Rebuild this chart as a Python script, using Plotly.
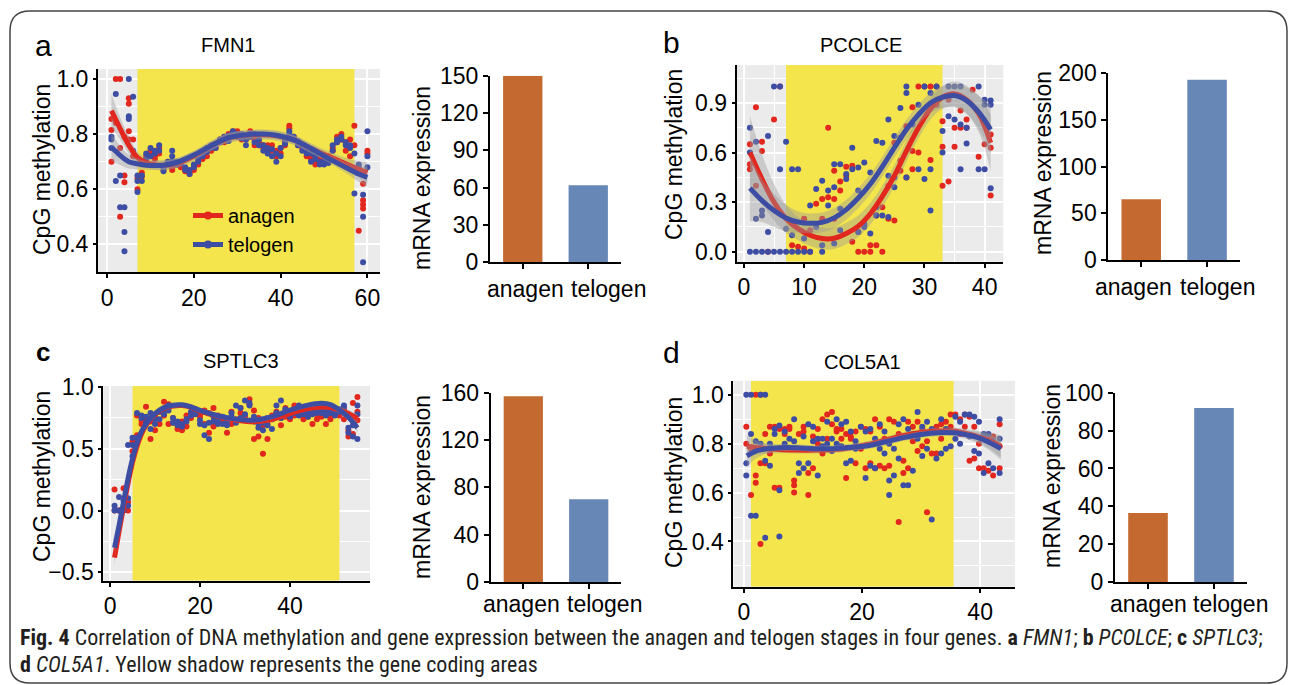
import plotly.graph_objects as go

W, H = 1290, 685

RED = "#E2271F"
BLUE = "#3D4DA3"
BAR_ANAGEN = "#C46A30"
BAR_TELOGEN = "#6787B7"
YELLOW = "#F3E54B"
FONT = "Liberation Sans, Arial, sans-serif"

# ---------------- data ----------------
STAGES = ["anagen", "telogen"]

# FMN1: CpG methylation per CpG site (site 1..60), several samples per site
FMN1_ANAGEN = [
    [0.70, 0.815, 0.855], [1.0, 0.84], [1.0, 0.75, 0.50], [0.65, 0.625, 0.79], [0.93, 0.91, 0.81, 0.78],
    [0.78, 0.72], [0.64, 0.60], [0.66, 0.645], [0.72, 0.70], [0.73, 0.74],
    [0.71, 0.72], [0.73, 0.75], [0.67, 0.68], [0.69, 0.70], [0.68, 0.67],
    [0.70, 0.69], [0.69, 0.68], [0.665, 0.67], [0.66, 0.655], [0.67, 0.68],
    [0.70, 0.69], [0.71, 0.72], [0.72, 0.74], [0.75, 0.74], [0.76, 0.75],
    [0.78, 0.77], [0.79, 0.77], [0.80, 0.79], [0.81, 0.79], [0.81, 0.79],
    [0.80, 0.78], [0.79, 0.78], [0.81, 0.79], [0.76, 0.78], [0.77, 0.76],
    [0.75, 0.76], [0.76, 0.74], [0.76, 0.74], [0.74, 0.72], [0.75, 0.73],
    [0.76, 0.77], [0.83, 0.82], [0.79, 0.78], [0.77, 0.76], [0.76, 0.75],
    [0.74, 0.72], [0.72, 0.71], [0.69, 0.70], [0.70, 0.71], [0.71, 0.70],
    [0.70, 0.72], [0.75, 0.74], [0.77, 0.79], [0.80, 0.78], [0.77, 0.74],
    [0.72, 0.78], [0.83, 0.76], [0.45, 0.67], [0.62, 0.56, 0.545, 0.53], [0.74, 0.73],
]
FMN1_TELOGEN = [
    [0.79, 0.78, 0.75], [0.945, 0.63], [0.65, 0.535], [0.535, 0.445, 0.375], [1.0, 0.865, 0.855],
    [0.935, 0.74], [0.65, 0.63, 0.59], [0.63, 0.65], [0.73, 0.71], [0.75, 0.72],
    [0.74, 0.73], [0.76, 0.74], [0.665, 0.68], [0.70, 0.69], [0.74, 0.72, 0.70],
    [0.70, 0.69], [0.695, 0.70], [0.68, 0.67], [0.655, 0.67], [0.69, 0.68],
    [0.71, 0.70], [0.72, 0.73], [0.735, 0.75], [0.76, 0.75], [0.765, 0.75],
    [0.77, 0.78], [0.785, 0.79], [0.795, 0.775], [0.80, 0.81], [0.80, 0.79],
    [0.785, 0.80], [0.76, 0.78], [0.79, 0.80], [0.80, 0.77], [0.76, 0.78],
    [0.74, 0.76], [0.73, 0.75], [0.72, 0.745], [0.70, 0.73], [0.72, 0.75],
    [0.765, 0.78], [0.80, 0.81], [0.78, 0.79], [0.775, 0.76], [0.76, 0.74],
    [0.745, 0.73], [0.70, 0.73], [0.71, 0.72], [0.70, 0.69], [0.69, 0.70],
    [0.70, 0.695], [0.76, 0.74], [0.78, 0.77], [0.79, 0.78], [0.77, 0.76],
    [0.75, 0.76], [0.585, 0.73], [0.69, 0.68], [0.58, 0.50, 0.335], [0.81, 0.72, 0.68],
]
FMN1_FIT_X = [1, 3, 5, 7, 9, 11, 13, 16, 20, 24, 28, 32, 36, 39, 43, 47, 51, 55, 58, 60]
FMN1_ANAGEN_FIT = [0.885, 0.82, 0.76, 0.715, 0.697, 0.689, 0.687, 0.694, 0.72, 0.758,
                   0.786, 0.796, 0.798, 0.794, 0.779, 0.748, 0.72, 0.692, 0.672, 0.66]
FMN1_ANAGEN_SE = [0.06, 0.04, 0.03, 0.022, 0.018, 0.018, 0.018, 0.018, 0.018, 0.018,
                  0.018, 0.018, 0.018, 0.018, 0.018, 0.018, 0.018, 0.022, 0.03, 0.04]
FMN1_TELOGEN_FIT = [0.752, 0.723, 0.70, 0.692, 0.687, 0.686, 0.687, 0.697, 0.724, 0.758,
                    0.787, 0.798, 0.80, 0.796, 0.779, 0.748, 0.712, 0.679, 0.655, 0.643]
FMN1_TELOGEN_SE = [0.05, 0.035, 0.025, 0.02, 0.016, 0.016, 0.016, 0.016, 0.016, 0.016,
                   0.016, 0.016, 0.016, 0.016, 0.016, 0.016, 0.016, 0.02, 0.028, 0.036]
FMN1_CODING = [7, 57]
FMN1_MRNA = [150, 62]

# PCOLCE: sites 1..41
PCOLCE_ANAGEN = [
    [0.65, 0.53, 0.50], [0.875, 0.40], [0.665, 0.61], [0.0], [0.80],
    [1.0], [], [0.04], [0.03], [0.20, 0.02],
    [0.0, 0.13], [0.29], [0.32, 0.20], [0.75, 0.33], [0.49, 0.32, 0.20],
    [0.425, 0.37], [0.515, 0.46], [0.52, 0.06], [0.0, 0.12], [0.0, 0.16],
    [0.04, 0.0], [0.04, 0.22], [0.0, 0.27], [0.40, 0.20], [0.66, 0.19],
    [0.49, 0.55], [0.76, 0.45], [0.875, 0.61, 0.50], [1.0, 0.60], [1.0],
    [1.0, 0.555], [1.0, 0.89], [0.79, 0.635, 0.40], [0.425, 0.92], [0.75, 0.635],
    [0.855, 0.75], [0.80, 0.75], [0.98], [0.575], [0.65],
    [0.71, 0.63, 0.34],
]
PCOLCE_TELOGEN = [
    [0.75, 0.60, 0.0], [0.665, 0.20, 0.0], [0.25, 0.22, 0.0], [0.70, 0.12, 0.0], [1.0, 0.0],
    [1.0, 0.50, 0.0], [0.665, 0.14, 0.0], [0.50, 0.10, 0.0], [0.50, 0.0], [0.08, 0.0],
    [0.28, 0.0], [0.38, 0.15], [0.43, 0.04, 0.0], [0.37, 0.28], [0.53, 0.39, 0.05],
    [0.53, 0.26, 0.13], [0.47, 0.44], [0.63, 0.50], [0.51, 0.37, 0.12], [0.54, 0.17, 0.15],
    [0.48, 0.11], [0.67, 0.27, 0.22], [0.66, 0.22], [0.80, 0.46, 0.21], [0.70, 0.45, 0.39],
    [0.87, 0.69], [1.0, 0.96, 0.45], [0.77], [0.89, 0.50], [1.0, 0.44],
    [0.96, 0.25, 0.50], [1.0], [0.73, 0.60], [1.0, 0.82], [1.0, 0.80],
    [1.0, 0.77, 0.50], [0.75, 0.655], [], [1.0, 0.50], [0.92, 0.89, 0.50],
    [0.915, 0.89, 0.385],
]
PCOLCE_FIT_X = [1, 3, 5, 7, 9, 11, 13, 15, 17, 19, 21, 23, 25, 27, 29, 31, 33, 35, 37, 39, 41]
PCOLCE_ANAGEN_FIT = [0.60, 0.44, 0.30, 0.20, 0.14, 0.10, 0.08, 0.082, 0.11, 0.155, 0.23,
                     0.335, 0.46, 0.61, 0.75, 0.865, 0.935, 0.955, 0.92, 0.835, 0.66]
PCOLCE_ANAGEN_SE = [0.22, 0.15, 0.11, 0.085, 0.07, 0.065, 0.065, 0.065, 0.065, 0.065, 0.065,
                    0.065, 0.065, 0.065, 0.065, 0.065, 0.07, 0.075, 0.085, 0.11, 0.17]
PCOLCE_TELOGEN_FIT = [0.385, 0.31, 0.25, 0.205, 0.18, 0.172, 0.178, 0.205, 0.255, 0.325, 0.41,
                      0.515, 0.63, 0.74, 0.83, 0.90, 0.935, 0.945, 0.915, 0.845, 0.74]
PCOLCE_TELOGEN_SE = [0.20, 0.13, 0.10, 0.08, 0.065, 0.06, 0.06, 0.06, 0.06, 0.06, 0.06,
                     0.06, 0.06, 0.06, 0.06, 0.06, 0.065, 0.07, 0.08, 0.10, 0.15]
PCOLCE_CODING = [7, 33]
PCOLCE_MRNA = [65, 193]

# SPTLC3: sites 1..55
SPTLC3_ANAGEN = [
    [0.17, 0.0], [0.0, 0.0], [0.18, 0.0], [0.07, 0.0], [0.56, 0.48],
    [0.77, 0.61], [0.73, 0.70], [0.84, 0.73], [0.58, 0.72], [0.65, 0.76],
    [0.80, 0.70], [0.88, 0.77], [0.86, 0.70], [0.75, 0.71], [0.70, 0.66],
    [0.65, 0.72], [0.77, 0.68], [0.79, 0.75], [0.82, 0.80], [0.78, 0.76],
    [0.81, 0.70], [0.63, 0.79], [0.83, 0.68], [0.77, 0.75], [0.74, 0.72],
    [0.63, 0.71], [0.80, 0.70], [0.74, 0.73], [0.83, 0.79], [0.74, 0.76],
    [0.90, 0.86], [0.58, 0.81], [0.60, 0.75], [0.46, 0.69], [0.58, 0.70],
    [0.77, 0.74], [0.80, 0.78], [0.69, 0.75], [0.83, 0.76], [0.74, 0.79],
    [0.85, 0.77], [0.78, 0.83], [0.78, 0.74], [0.76, 0.79], [0.70, 0.80],
    [0.78, 0.74], [0.76, 0.80], [0.82, 0.70], [0.74, 0.78], [0.78, 0.81],
    [0.79, 0.77], [0.74, 0.82], [0.60, 0.65], [0.87, 0.62], [0.92, 0.80, 0.73],
]
SPTLC3_TELOGEN = [
    [0.04, 0.0], [0.11, 0.0], [0.08, 0.0], [0.10, 0.53, 0.04], [0.59, 0.53, 0.44],
    [0.79, 0.59], [0.77, 0.75], [0.76, 0.71], [0.79, 0.66], [0.74, 0.70],
    [0.80, 0.74], [0.82, 0.78], [0.85, 0.81], [0.75, 0.71], [0.72, 0.69],
    [0.70, 0.68], [0.74, 0.72], [0.80, 0.77], [0.80, 0.78], [0.70, 0.73],
    [0.61, 0.69], [0.58, 0.71], [0.76, 0.72], [0.73, 0.70], [0.70, 0.76],
    [0.72, 0.69], [0.76, 0.79], [0.85, 0.71], [0.83, 0.75], [0.89, 0.78],
    [0.87, 0.85], [0.76, 0.72], [0.67, 0.70], [0.65, 0.71], [0.69, 0.75],
    [0.66, 0.74], [0.79, 0.85], [0.89, 0.75], [0.82, 0.78], [0.77, 0.76],
    [0.81, 0.79], [0.85, 0.77], [0.81, 0.78], [0.79, 0.76], [0.78, 0.82],
    [0.81, 0.79], [0.79, 0.82], [0.80, 0.77], [0.79, 0.81], [0.78, 0.77],
    [0.82, 0.80], [0.84, 0.85], [0.63, 0.67], [0.60, 0.69], [0.58, 0.78, 0.85],
]
SPTLC3_FIT_X = [1, 2, 3, 4, 5, 6, 7, 8, 10, 12, 14, 16, 18, 20, 24, 28, 32, 36, 40, 44, 47, 49, 51, 53, 55]
SPTLC3_ANAGEN_FIT = [-0.38, -0.17, 0.03, 0.22, 0.39, 0.52, 0.62, 0.69, 0.78, 0.826, 0.846, 0.85, 0.836,
                     0.805, 0.762, 0.733, 0.718, 0.738, 0.785, 0.825, 0.838, 0.833, 0.815, 0.785, 0.745]
SPTLC3_ANAGEN_SE = [0.06, 0.035, 0.03, 0.025, 0.02, 0.02, 0.02, 0.02, 0.02, 0.02, 0.02, 0.02, 0.02,
                    0.02, 0.02, 0.02, 0.02, 0.02, 0.02, 0.02, 0.02, 0.02, 0.025, 0.03, 0.035]
SPTLC3_TELOGEN_FIT = [-0.30, -0.12, 0.07, 0.26, 0.42, 0.55, 0.64, 0.70, 0.785, 0.833, 0.853, 0.856, 0.84,
                      0.81, 0.767, 0.74, 0.732, 0.76, 0.812, 0.853, 0.868, 0.857, 0.815, 0.755, 0.67]
SPTLC3_TELOGEN_SE = [0.06, 0.035, 0.03, 0.025, 0.02, 0.02, 0.02, 0.02, 0.02, 0.02, 0.02, 0.02, 0.02,
                     0.02, 0.02, 0.02, 0.02, 0.02, 0.02, 0.02, 0.02, 0.02, 0.025, 0.03, 0.035]
SPTLC3_CODING = [5, 51]
SPTLC3_MRNA = [157, 70]

# COL5A1: site positions are not integers
COL5A1_POS = [0.4, 1.2, 2.0, 2.8, 3.6, 4.4, 5.2, 6.0, 6.9, 7.7, 8.5, 9.3, 10.1, 10.9, 11.7,
              12.5, 13.3, 14.1, 14.9, 15.7, 16.5, 17.3, 18.1, 18.9, 19.8, 20.6, 21.4, 22.2,
              23.0, 23.8, 24.6, 25.4, 26.2, 27.0, 27.8, 28.6, 29.4, 30.2, 31.0, 31.8, 32.6,
              33.4, 34.2, 35.0, 35.8, 36.6, 37.4, 38.2, 39.0, 39.8, 40.6, 41.4, 42.2, 43.3]
COL5A1_ANAGEN = [
    [0.87, 0.80], [0.59, 0.78], [1.0, 0.67, 0.64], [1.0, 0.39, 0.72], [0.84, 0.72],
    [0.87, 0.76], [0.62, 0.87], [0.62, 0.86], [0.86, 0.84], [0.87, 0.86],
    [0.60, 0.63, 0.65], [0.78, 0.84], [0.87, 0.85], [0.59, 0.68], [0.70, 0.83],
    [0.86, 0.80], [0.90, 0.76], [0.92, 0.82], [0.93, 0.88], [0.86, 0.85],
    [0.86, 0.82], [0.66, 0.84], [0.83, 0.82], [0.72, 0.85], [0.87, 0.78],
    [0.86, 0.70], [0.85, 0.72], [0.90, 0.70], [0.87, 0.71], [0.82, 0.70],
    [0.90, 0.71], [0.89, 0.82], [0.48, 0.84], [0.73, 0.68], [0.89, 0.70],
    [0.87, 0.81], [0.89, 0.77], [0.86, 0.79], [0.52, 0.81], [0.76, 0.85],
    [0.87, 0.76], [0.82, 0.88], [0.85, 0.89], [0.92, 0.87], [0.92, 0.85],
    [0.90, 0.84], [0.92, 0.87], [0.91, 0.73], [0.87, 0.74], [0.80, 0.70],
    [0.70, 0.82], [0.69, 0.83], [0.67, 0.83], [0.88, 0.79, 0.70],
]
COL5A1_TELOGEN = [
    [1.0, 0.72, 0.67], [1.0, 0.505, 0.84], [0.505, 0.81], [1.0, 0.80], [1.0, 0.415, 0.73],
    [0.71, 0.80], [0.86, 0.84], [0.61, 0.42, 0.875], [0.80, 0.85], [0.82, 0.78],
    [0.90, 0.81], [0.68, 0.72], [0.70, 0.83], [0.88, 0.72], [0.87, 0.81],
    [0.67, 0.82], [0.82, 0.79], [0.89, 0.80], [0.82, 0.77], [0.90, 0.80],
    [0.88, 0.79], [0.89, 0.72], [0.73, 0.85], [0.81, 0.78], [0.87, 0.79],
    [0.85, 0.66], [0.71, 0.86], [0.70, 0.82], [0.88, 0.78], [0.85, 0.76],
    [0.65, 0.59, 0.80], [0.67, 0.78], [0.74, 0.88], [0.90, 0.63], [0.63, 0.86],
    [0.69, 0.84], [0.93, 0.82], [0.75, 0.87], [0.89, 0.78], [0.49, 0.86],
    [0.74, 0.85], [0.76, 0.90], [0.78, 0.86], [0.79, 0.85], [0.91, 0.82],
    [0.89, 0.80], [0.92, 0.84], [0.92, 0.83], [0.91, 0.77], [0.89, 0.76],
    [0.68, 0.84], [0.72, 0.84], [0.70, 0.81], [0.90, 0.68, 0.82],
]
COL5A1_FIT_X = [0.5, 2, 4, 6, 9, 12, 15, 18, 21, 24, 27, 30, 33, 36, 38, 40, 42, 43.5]
COL5A1_ANAGEN_FIT = [0.79, 0.785, 0.78, 0.776, 0.774, 0.774, 0.776, 0.784, 0.797, 0.815, 0.833,
                     0.846, 0.852, 0.85, 0.84, 0.826, 0.808, 0.79]
COL5A1_ANAGEN_SE = [0.045, 0.03, 0.02, 0.015, 0.014, 0.014, 0.014, 0.014, 0.014, 0.014, 0.014,
                    0.014, 0.014, 0.015, 0.018, 0.025, 0.035, 0.045]
COL5A1_TELOGEN_FIT = [0.75, 0.77, 0.78, 0.784, 0.784, 0.78, 0.78, 0.785, 0.792, 0.808, 0.825,
                      0.838, 0.845, 0.844, 0.835, 0.822, 0.80, 0.78]
COL5A1_TELOGEN_SE = [0.045, 0.03, 0.02, 0.015, 0.014, 0.014, 0.014, 0.014, 0.014, 0.014, 0.014,
                     0.014, 0.014, 0.015, 0.018, 0.025, 0.035, 0.045]
COL5A1_CODING = [1.2, 35.5]
COL5A1_MRNA = [36.5, 92]


def xdom(p0, p1):
    return [p0 / W, p1 / W]


def ydom(p0, p1):
    return [1 - p1 / H, 1 - p0 / H]


def ref(kind, i):
    return kind if i == 1 else f"{kind}{i}"


def key(kind, i):
    return f"{kind}axis" if i == 1 else f"{kind}axis{i}"


def flatten(pos, groups):
    xs, ys = [], []
    for p, vals in zip(pos, groups):
        for v in vals:
            xs.append(p)
            ys.append(v)
    return xs, ys


fig = go.Figure()
layout = {}
shapes = []
annotations = []

tickfont = dict(family=FONT, size=23, color="black")

# methylation panels: (axis index, pixel box, x range, y range, ticks)
meth_panels = [
    (1, (98, 380), (69, 272), (-2.1, 62.9), (0.30, 1.036), 20, 10, 0.2, 0.1,
     list(range(1, 61)), FMN1_ANAGEN, FMN1_TELOGEN, FMN1_FIT_X,
     FMN1_ANAGEN_FIT, FMN1_ANAGEN_SE, FMN1_TELOGEN_FIT, FMN1_TELOGEN_SE, FMN1_CODING),
    (2, (736.7, 1003.3), (65, 261.7), (-1.2, 43.1), (-0.06, 1.13), 10, 5, 0.3, 0.15,
     list(range(1, 42)), PCOLCE_ANAGEN, PCOLCE_TELOGEN, PCOLCE_FIT_X,
     PCOLCE_ANAGEN_FIT, PCOLCE_ANAGEN_SE, PCOLCE_TELOGEN_FIT, PCOLCE_TELOGEN_SE, PCOLCE_CODING),
    (3, (103.3, 370), (386, 580.7), (-1.5, 57.8), (-0.567, 1.008), 20, 10, 0.5, 0.25,
     list(range(1, 56)), SPTLC3_ANAGEN, SPTLC3_TELOGEN, SPTLC3_FIT_X,
     SPTLC3_ANAGEN_FIT, SPTLC3_ANAGEN_SE, SPTLC3_TELOGEN_FIT, SPTLC3_TELOGEN_SE, SPTLC3_CODING),
    (4, (733.3, 1015), (380.7, 586.7), (-1.8, 45.9), (0.215, 1.058), 20, 10, 0.2, 0.1,
     COL5A1_POS, COL5A1_ANAGEN, COL5A1_TELOGEN, COL5A1_FIT_X,
     COL5A1_ANAGEN_FIT, COL5A1_ANAGEN_SE, COL5A1_TELOGEN_FIT, COL5A1_TELOGEN_SE, COL5A1_CODING),
]

for (i, px, py, xr, yr, xd, xm, yd, ym, pos, ana, telo, fx,
     afit, ase, tfit, tse, coding) in meth_panels:
    xa, ya = ref("x", i), ref("y", i)
    layout[key("x", i)] = dict(
        domain=xdom(*px), range=list(xr), anchor=ya, tick0=0, dtick=xd, automargin=False,
        showgrid=True, gridcolor="white", gridwidth=2,
        minor=dict(dtick=xm, showgrid=True, gridcolor="white", gridwidth=1, ticks=""),
        ticks="outside", ticklen=4, tickwidth=1.5, tickcolor="black",
        showline=True, linecolor="black", linewidth=2, zeroline=False,
        tickfont=tickfont, fixedrange=True)
    layout[key("y", i)] = dict(
        domain=ydom(*py), range=list(yr), anchor=xa, tick0=0, dtick=yd, tickformat=".1f",
        automargin=False, showgrid=True, gridcolor="white", gridwidth=2,
        minor=dict(dtick=ym, showgrid=True, gridcolor="white", gridwidth=1, ticks=""),
        ticks="outside", ticklen=3, tickwidth=1.5, tickcolor="black",
        showline=True, linecolor="black", linewidth=2, zeroline=False,
        tickfont=tickfont, fixedrange=True)
    # grey panel background
    shapes.append(dict(type="rect", xref=f"{xa} domain", yref=f"{ya} domain",
                       x0=0, x1=1, y0=0, y1=1, fillcolor="#EBEBEB", line_width=0, layer="below"))
    # coding area (drawn as a trace so it covers the grid)
    fig.add_trace(go.Scatter(x=[coding[0], coding[1], coding[1], coding[0]],
                             y=[yr[0], yr[0], yr[1], yr[1]], mode="lines", fill="toself",
                             fillcolor=YELLOW, line=dict(width=0), xaxis=xa, yaxis=ya,
                             showlegend=False, hoverinfo="skip"))

    for groups, col in ((ana, RED), (telo, BLUE)):
        x, y = flatten(pos, groups)
        fig.add_trace(go.Scatter(x=x, y=y, mode="markers", xaxis=xa, yaxis=ya,
                                 marker=dict(size=6, color=col), showlegend=False,
                                 hoverinfo="skip"))
    for fit, se, col in ((afit, ase, RED), (tfit, tse, BLUE)):
        lo = [f - s for f, s in zip(fit, se)]
        hi = [f + s for f, s in zip(fit, se)]
        fig.add_trace(go.Scatter(x=fx, y=lo, mode="lines", line=dict(width=0, shape="spline"),
                                 xaxis=xa, yaxis=ya, showlegend=False, hoverinfo="skip"))
        fig.add_trace(go.Scatter(x=fx, y=hi, mode="lines", line=dict(width=0, shape="spline"),
                                 fill="tonexty", fillcolor="rgba(153,153,153,0.4)",
                                 xaxis=xa, yaxis=ya, showlegend=False, hoverinfo="skip"))
        fig.add_trace(go.Scatter(x=fx, y=fit, mode="lines",
                                 line=dict(width=5, color=col, shape="spline"),
                                 xaxis=xa, yaxis=ya, showlegend=False, hoverinfo="skip"))

# legend entries (panel a)
for name, col in zip(STAGES, (RED, BLUE)):
    fig.add_trace(go.Scatter(x=[None], y=[None], mode="lines+markers", name=name,
                             line=dict(color=col, width=5), marker=dict(size=8, color=col),
                             xaxis="x", yaxis="y"))

# mRNA bar panels; category labels sit a little apart from the bars in the original
bar_panels = [
    (5, (490, 621), (75.7, 262.3), 150, 30, FMN1_MRNA, (525, 608), 289),
    (6, (1108.3, 1240), (73.3, 260), 200, 50, PCOLCE_MRNA, (1133, 1217), 287),
    (7, (490.6, 621.4), (392.8, 582), 160, 40, SPTLC3_MRNA, (521, 604), 604),
    (8, (1115, 1247), (392.8, 582), 100, 20, COL5A1_MRNA, (1148, 1230), 604),
]
for i, px, py, ymax, yd, vals, lab_x, lab_y in bar_panels:
    xa, ya = ref("x", i), ref("y", i)
    layout[key("x", i)] = dict(
        domain=xdom(*px), range=[-0.5, 1.5], anchor=ya, type="category",
        showticklabels=False, automargin=False,
        ticks="outside", ticklen=5, tickwidth=1.5, tickcolor="black",
        showline=True, linecolor="black", linewidth=2, showgrid=False, fixedrange=True)
    layout[key("y", i)] = dict(
        domain=ydom(*py), range=[0, ymax], anchor=xa, dtick=yd, automargin=False,
        ticks="outside", ticklen=5, tickwidth=1.5, tickcolor="black",
        showline=True, linecolor="black", linewidth=2, showgrid=False, zeroline=False,
        tickfont=tickfont, fixedrange=True)
    fig.add_trace(go.Bar(x=STAGES, y=vals, width=0.6, xaxis=xa, yaxis=ya,
                         marker=dict(color=[BAR_ANAGEN, BAR_TELOGEN], line_width=0),
                         showlegend=False, hoverinfo="skip"))
    for s, lx in zip(STAGES, lab_x):
        annotations.append(dict(text=s, x=lx / W, y=1 - lab_y / H, xref="paper", yref="paper",
                                showarrow=False, xanchor="center", yanchor="middle",
                                font=tickfont))


def text(s, x, y, size, angle=0, **kw):
    annotations.append(dict(text=s, x=x / W, y=1 - y / H, xref="paper", yref="paper",
                            showarrow=False, textangle=angle, xanchor="center", yanchor="middle",
                            font=dict(family=FONT, size=size, color="black"), **kw))


for s, x, y in (("a", 43, 45), ("b", 671, 43), ("d", 671, 352)):
    text(s, x, y, 30)
text("<b>c</b>", 43, 352, 26)
for s, x, y in (("FMN1", 228, 45), ("PCOLCE", 861, 45), ("SPTLC3", 241, 361), ("COL5A1", 862, 362)):
    text(s, x, y, 20)
for x, y in ((42, 170), (674, 154), (42, 477), (674, 482)):
    text("CpG methylation", x, y, 23, angle=-90)
for x, y in ((422, 178), (1043, 163), (422, 487), (1052, 476)):
    text("mRNA expression", x, y, 23, angle=-90)

cap_font = dict(family="Liberation Sans Narrow, Roboto Condensed, Liberation Sans", size=22, color="#231F20")
annotations.append(dict(
    text="<b>Fig. 4</b> Correlation of DNA methylation and gene expression between the anagen and "
         "telogen stages in four genes. <b>a</b> <i>FMN1</i>; <b>b</b> <i>PCOLCE</i>; "
         "<b>c</b> <i>SPTLC3</i>;",
    x=18 / W, y=1 - 637 / H, xref="paper", yref="paper", showarrow=False,
    xanchor="left", yanchor="middle", font=cap_font))
annotations.append(dict(
    text="<b>d</b> <i>COL5A1</i>. Yellow shadow represents the gene coding areas",
    x=18 / W, y=1 - 664 / H, xref="paper", yref="paper", showarrow=False,
    xanchor="left", yanchor="middle", font=cap_font))

# rounded frame around the whole figure
x0, x1, y0, y1 = 10 / W, 1287 / W, 1 - 683 / H, 1 - 11 / H
rx, ry = 20 / W, 20 / H
path = (f"M {x0 + rx},{y1} L {x1 - rx},{y1} Q {x1},{y1} {x1},{y1 - ry} "
        f"L {x1},{y0 + ry} Q {x1},{y0} {x1 - rx},{y0} L {x0 + rx},{y0} "
        f"Q {x0},{y0} {x0},{y0 + ry} L {x0},{y1 - ry} Q {x0},{y1} {x0 + rx},{y1} Z")
shapes.append(dict(type="path", path=path, xref="paper", yref="paper",
                   line=dict(color="#444444", width=1.5), layer="above"))

fig.update_layout(
    width=W, height=H, margin=dict(l=0, r=0, t=0, b=0, autoexpand=False),
    paper_bgcolor="white", plot_bgcolor="white",
    font=dict(family=FONT, color="black"),
    showlegend=True,
    legend=dict(x=188 / W, y=1 - 196 / H, xanchor="left", yanchor="top", traceorder="normal",
                bgcolor="rgba(0,0,0,0)", font=dict(family=FONT, size=20, color="black"),
                itemwidth=30, tracegroupgap=0),
    shapes=shapes, annotations=annotations, **layout)

fig.write_html("out.html", config={"displayModeBar": False},
               post_script="document.body.style.margin='0';")
